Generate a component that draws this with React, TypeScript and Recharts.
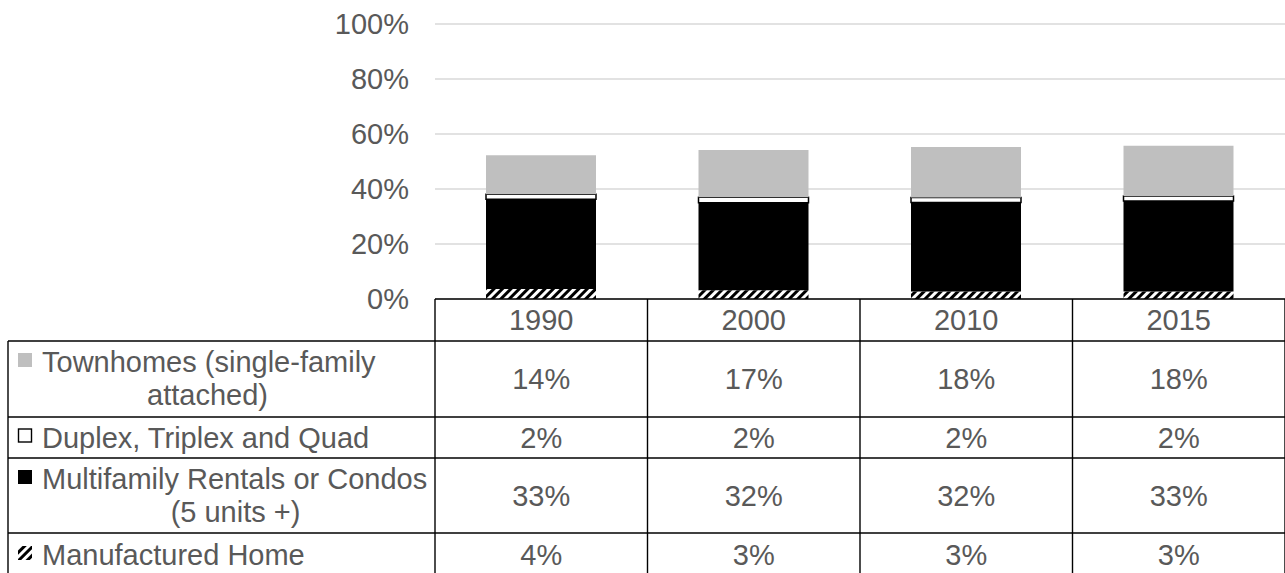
import { BarChart, Bar, XAxis, YAxis, CartesianGrid } from "recharts";

const years = ["1990", "2000", "2010", "2015"];
const manufactured = [3.6, 3.2, 2.7, 2.7];
const multifamily = [32.7, 31.8, 32.4, 32.9];
const duplex = [1.8, 2.0, 1.8, 1.9];
const townhomes = [14.2, 17.2, 18.4, 18.2];
const yTicks = [0, 20, 40, 60, 80, 100];

const data = years.map((year, i) => ({
  year,
  manufactured: manufactured[i],
  multifamily: multifamily[i],
  duplex: duplex[i],
  townhomes: townhomes[i],
}));

const FONT = "'Liberation Sans', Arial, sans-serif";
const TEXT = "#595959";
const FS = 29;

// table rows, top to bottom (series key, label lines)
const rows = [
  { key: "townhomes", lines: ["Townhomes (single-family", "attached)"] },
  { key: "duplex", lines: ["Duplex, Triplex and Quad"] },
  { key: "multifamily", lines: ["Multifamily Rentals or Condos", "(5 units +)"] },
  { key: "manufactured", lines: ["Manufactured Home"] },
];

// layout of the data table under the plot
const AXIS_Y = 299;
const HEADER_BOTTOM = 341;
const rowBounds = [341, 417, 458, 533, 612];
const TABLE_LEFT = 8;
const TABLE_RIGHT = 1285;
const LABEL_COL_RIGHT = 435;

const Marker = ({ k, x, y }: { k: string; x: number; y: number }) => {
  const s = 14;
  if (k === "townhomes") return <rect x={x} y={y - s / 2} width={s} height={s} fill="#bfbfbf" />;
  if (k === "duplex")
    return <rect x={x + 0.5} y={y - s / 2 + 0.5} width={s - 1} height={s - 1} fill="#fff" stroke="#000" strokeWidth={1.4} />;
  if (k === "multifamily") return <rect x={x} y={y - s / 2} width={s} height={s} fill="#000" />;
  return <rect x={x} y={y - s / 2} width={s} height={s} fill="url(#hatch)" />;
};

const TableTick = (props: any) => {
  const { x, payload, index, width } = props;
  const band = width / years.length;
  const i = payload.index ?? index;
  const left = x - band / 2;
  const right = x + band / 2;
  return (
    <g fontFamily={FONT} fontSize={FS} fill={TEXT}>
      <line x1={right} x2={right} y1={AXIS_Y} y2={573} stroke="#000" strokeWidth={1.4} />
      <text x={x} y={(AXIS_Y + HEADER_BOTTOM) / 2} textAnchor="middle" dominantBaseline="central">
        {payload.value}
      </text>
      {rows.map((r, ri) => {
        const vals = { townhomes, duplex, multifamily, manufactured } as Record<string, number[]>;
        const cy = ri === 3 ? 555 : (rowBounds[ri] + rowBounds[ri + 1]) / 2;
        return (
          <text key={r.key} x={x} y={cy} textAnchor="middle" dominantBaseline="central">
            {Math.round(vals[r.key][i])}%
          </text>
        );
      })}
      {i === 0 && (
        <g>
          <line x1={left} x2={left} y1={AXIS_Y} y2={573} stroke="#000" strokeWidth={1.4} />
          <line x1={TABLE_LEFT} x2={TABLE_LEFT} y1={HEADER_BOTTOM} y2={573} stroke="#000" strokeWidth={1.4} />
          {rowBounds.slice(0, 4).map((rb) => (
            <line key={rb} x1={TABLE_LEFT} x2={TABLE_RIGHT} y1={rb} y2={rb} stroke="#000" strokeWidth={1.4} />
          ))}
          {rows.map((r, ri) => {
            const top = rowBounds[ri];
            const bottom = ri === 3 ? 577 : rowBounds[ri + 1];
            const two = r.lines.length === 2;
            const y1 = two ? top + 21 : (top + bottom) / 2;
            const mid = (TABLE_LEFT + LABEL_COL_RIGHT) / 2;
            return (
              <g key={r.key}>
                <Marker k={r.key} x={18} y={y1 - 2} />
                <text x={42} y={y1} dominantBaseline="central">
                  {r.lines[0]}
                </text>
                {two && (
                  <text x={mid + (ri === 0 ? -14 : 14)} y={y1 + 33} textAnchor="middle" dominantBaseline="central">
                    {r.lines[1]}
                  </text>
                )}
              </g>
            );
          })}
        </g>
      )}
    </g>
  );
};

export default function App() {
  return (
    <div style={{ position: "absolute", left: 0, top: 0, background: "#fff" }}>
      <BarChart
        width={1285}
        height={573}
        data={data}
        margin={{ top: 24, right: 0, bottom: 0, left: 0 }}
        barSize={110}
      >
        <defs>
          <pattern id="hatch" patternUnits="userSpaceOnUse" width={6} height={6} patternTransform="rotate(45)">
            <rect width={6} height={6} fill="#fff" />
            <rect width={3} height={6} fill="#000" />
          </pattern>
        </defs>
        <CartesianGrid vertical={false} stroke="#d9d9d9" strokeWidth={1.3} />
        <YAxis
          width={435}
          domain={[0, 100]}
          ticks={yTicks}
          tickFormatter={(v) => `${v}%`}
          axisLine={false}
          tickLine={false}
          tickSize={0}
          tickMargin={26}
          tick={{ fill: TEXT, fontSize: FS, fontFamily: FONT }}
        />
        <XAxis
          dataKey="year"
          height={274}
          interval={0}
          axisLine={{ stroke: "#000", strokeWidth: 1.4 }}
          tickLine={false}
          tick={<TableTick />}
        />
        <Bar dataKey="manufactured" stackId="a" fill="url(#hatch)" isAnimationActive={false} />
        <Bar dataKey="multifamily" stackId="a" fill="#000" isAnimationActive={false} />
        <Bar dataKey="duplex" stackId="a" fill="#fff" stroke="#000" strokeWidth={1.5} isAnimationActive={false} />
        <Bar dataKey="townhomes" stackId="a" fill="#bfbfbf" isAnimationActive={false} />
      </BarChart>
    </div>
  );
}
